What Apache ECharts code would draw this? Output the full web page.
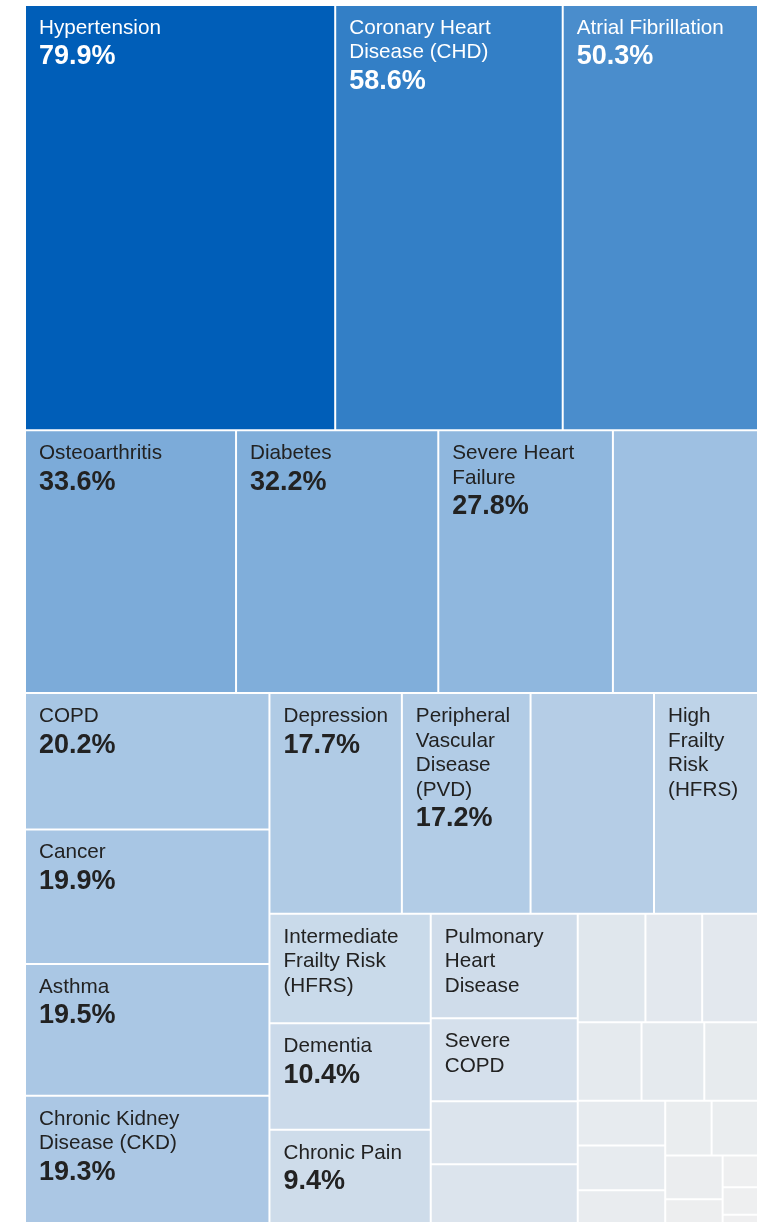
<!DOCTYPE html>
<html>
<head>
<meta charset="utf-8">
<script src="https://cdn.jsdelivr.net/npm/echarts@6/dist/echarts.min.js"></script>
<style>
  html, body { margin: 0; padding: 0; background: #fff; }
  #chart { width: 767px; height: 1222px; }
</style>
</head>
<body>
<div id="chart"></div>
<script>
// Long-term condition prevalence (%), one cell per condition
const conditions = [
  'Hypertension', 'Coronary Heart\nDisease (CHD)', 'Atrial Fibrillation',
  'Osteoarthritis', 'Diabetes', 'Severe Heart\nFailure', '',
  'COPD', 'Cancer', 'Asthma', 'Chronic Kidney\nDisease (CKD)',
  'Depression', 'Peripheral\nVascular\nDisease\n(PVD)', '', 'High\nFrailty\nRisk\n(HFRS)',
  'Intermediate\nFrailty Risk\n(HFRS)', 'Dementia', 'Chronic Pain',
  'Pulmonary\nHeart\nDisease', 'Severe\nCOPD', '', '',
  '', '', '', '', '', '', '', '', '', '', '', '', '', '', '', ''
];
const prevalence = [
  79.9, 58.6, 50.3,
  33.6, 32.2, 27.8, 23.1,
  20.2, 19.9, 19.5, 19.3,
  17.7, 17.2, 16.5, 13.9,
  10.7, 10.4, 9.4,
  9.3, 7.4, 5.6, 5.5,
  4.45, 3.73, 3.67, 3.03, 2.98, 2.55, 2.37, 2.37, 1.90, 1.54, 1.54, 1.52, 0.93, 0.68, 0.59, 0.24
];
// whether the percentage is printed under the condition name
const valueLabelled = [
  true, true, true,
  true, true, true, false,
  true, true, true, true,
  true, true, false, false,
  false, true, true,
  false, false, false, false,
  false, false, false, false, false, false, false, false, false, false, false, false, false, false, false, false
];

const data = conditions.map((name, i) => ({
  name: name,
  value: prevalence[i],
  valueLabelled: valueLabelled[i]
}));

const FONT = '"Liberation Sans", Arial, sans-serif';
const chart = echarts.init(document.getElementById('chart'), null, { renderer: 'canvas' });

chart.setOption({
  backgroundColor: '#ffffff',
  animation: false,
  tooltip: { show: false },
  series: [{
    type: 'treemap',
    left: 25,
    top: 5,
    right: 9,
    bottom: -4,
    roam: false,
    nodeClick: false,
    sort: 'desc',
    breadcrumb: { show: false },
    levels: [{
      colorMappingBy: 'value',
      visualMin: 0,
      visualMax: 80,
      color: ['#f0f0f0', '#a8c6e4', '#679fd4', '#2f7dc5', '#005eb8'],
      itemStyle: { borderWidth: 0, gapWidth: 0 }
    }],
    itemStyle: { borderColor: '#ffffff', borderWidth: 1, gapWidth: 0 },
    label: {
      show: true,
      position: 'insideTopLeft',
      distance: 0,
      padding: [10, 13],
      overflow: 'none',
      fontFamily: FONT,
      formatter: function (p) {
        const d = p.data;
        if (!d || !d.name) return '';
        const onDark = d.value > 40;
        const n = onDark ? 'nl' : 'nd';
        const v = onDark ? 'vl' : 'vd';
        let txt = d.name.split('\n').map(l => '{' + n + '|' + l + '}').join('\n');
        if (d.valueLabelled) txt += '\n{' + v + '|' + d.value.toFixed(1) + '%}';
        return txt;
      },
      rich: {
        nl: { fontFamily: FONT, fontSize: 20.7, lineHeight: 24.5, color: '#ffffff' },
        vl: { fontFamily: FONT, fontSize: 27, lineHeight: 33, fontWeight: 'bold', color: '#ffffff' },
        nd: { fontFamily: FONT, fontSize: 20.7, lineHeight: 24.5, color: '#222222' },
        vd: { fontFamily: FONT, fontSize: 27, lineHeight: 33, fontWeight: 'bold', color: '#222222' }
      }
    },
    upperLabel: { show: false },
    data: data
  }]
});
</script>
</body>
</html>
